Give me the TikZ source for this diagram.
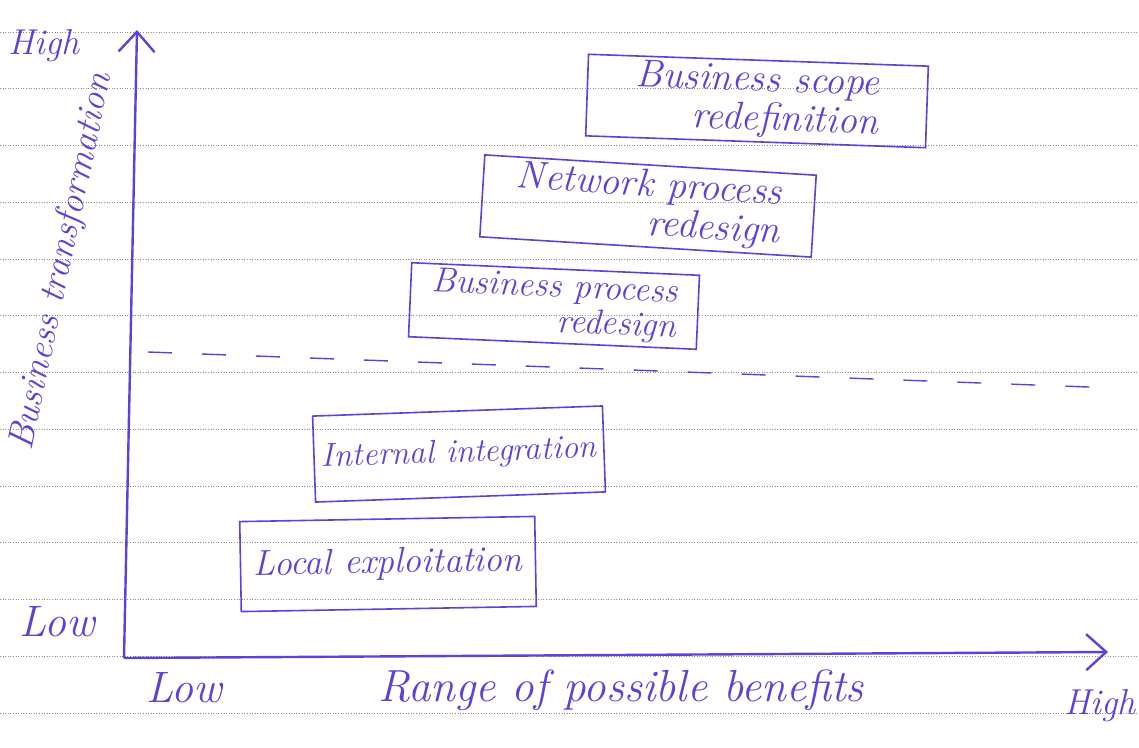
\documentclass[tikz,border=0pt]{standalone}
\usepackage{fontspec}
\usepackage{tikz}
\usetikzlibrary{arrows.meta, positioning, calc}
\definecolor{cInk}{RGB}{92,66,214}
\definecolor{cRule}{RGB}{140,140,140}
\tikzset{
	inkbox/.style  ={rectangle, draw=cInk, line width=1.6pt, text=cInk, align=right, inner sep=4pt, font=\itshape\fontsize{#1}{#1}\selectfont},
	inkbox/.default=34,
	inklabel/.style={text=cInk, inner sep=0pt, font=\itshape\fontsize{#1}{#1}\selectfont},
	inklabel/.default=40,
	axis/.style    ={draw=cInk, line width=2.4pt, -{Straight Barb[length=20pt, width=36pt, line width=2.4pt]}},
	splitline/.style={draw=cInk, line width=1.4pt, dash pattern=on 24pt off 30pt},
	ruling/.style  ={draw=cRule, line width=0.6pt, dotted},
}
\begin{document}
\begin{tikzpicture}[x=1pt, y=-1pt]
	\useasboundingbox (0,0) rectangle (1139,747);
	% lined paper
	\foreach \k in {0,...,12}
		\draw[ruling] (0,{32+56.75*\k}) -- (1139,{32+56.75*\k});
	% axes
	\coordinate (origin) at (124,658);
	\coordinate (ytip) at (137,30);
	\coordinate (xtip) at (1108,652);
	\draw[axis] (origin) -- (ytip);
	\draw[axis] (origin) -- (xtip);
	\node[inklabel=36] (yhigh) at (44,46) {High};
	\node[inklabel=44] (ylow) at (57,622) {Low};
	\node[inklabel=44] (xlow) at (184,688) {Low};
	\node[inklabel=36] (xhigh) at (1100,706) {High};
	\node[inklabel=45] (xname) at (621,690) {Range of possible benefits};
	\node[inklabel=37, rotate=78] (yname) at (62,262) {Business transformation};
	% threshold between the two groups
	\coordinate (splitL) at (148,352);
	\coordinate (splitR) at (1115,388);
	\draw[splitline] (splitL) -- (splitR);
	% stages
	\node[inkbox=36, minimum width=295pt, minimum height=90pt, rotate=1] (local) at (388,564) {Local exploitation};
	\node[inkbox=33, minimum width=290pt, minimum height=86pt, rotate=2] (internal) at (459,454) {Internal integration};
	\node[inkbox=35, minimum width=288pt, minimum height=72pt, rotate=-2.5] (bpr) at (554,306) {Business process\\redesign};
	\node[inkbox=39, minimum width=332pt, minimum height=78pt, rotate=-3.5] (npr) at (648,206) {Network process\\redesign};
	\node[inkbox=39, minimum width=340pt, minimum height=80pt, rotate=-2] (scope) at (757,101) {Business scope\\redefinition};
\end{tikzpicture}
\end{document}
